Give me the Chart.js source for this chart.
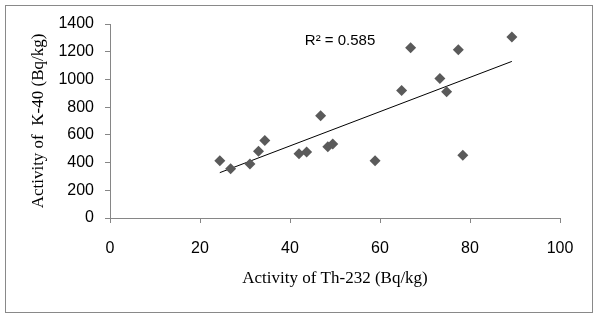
<!DOCTYPE html>
<html>
<head>
<meta charset="utf-8">
<script src="https://cdn.jsdelivr.net/npm/chart.js@4/dist/chart.umd.min.js"></script>
<style>
html,body{margin:0;padding:0;background:#fff;}
canvas{display:block;}
</style>
</head>
<body>
<canvas id="c" width="599" height="319"></canvas>
<script>
// Activity of Th-232 (Bq/kg)
const thActivity = [24.4, 26.8, 31.1, 33.0, 34.4, 42.0, 43.7, 46.8, 48.4, 49.5, 58.9, 64.8, 66.8, 73.3, 74.8, 77.4, 78.4, 89.3];
// Activity of K-40 (Bq/kg)
const kActivity  = [413, 356, 390, 481, 560, 464, 476, 738, 514, 534, 413, 921, 1229, 1007, 911, 1214, 452, 1306];
const xTitle = 'Activity of Th-232 (Bq/kg)';
const yTitle = 'Activity of  K-40 (Bq/kg)';
const r2Label = 'R\u00B2 = 0.585';

const points = thActivity.map((x, i) => ({x: x, y: kActivity[i]}));

// linear least-squares trendline from the data
const n = thActivity.length;
const mx = thActivity.reduce((a, b) => a + b, 0) / n;
const my = kActivity.reduce((a, b) => a + b, 0) / n;
let sxy = 0, sxx = 0;
for (let i = 0; i < n; i++) { sxy += (thActivity[i] - mx) * (kActivity[i] - my); sxx += (thActivity[i] - mx) ** 2; }
const slope = sxy / sxx, intercept = my - slope * mx;
const xMin = Math.min(...thActivity), xMax = Math.max(...thActivity);
const trend = [{x: xMin, y: intercept + slope * xMin}, {x: xMax, y: intercept + slope * xMax}];

const axisGray = '#868686';
const tickFont = {family: '"Liberation Sans", Arial, sans-serif', size: 16};
const titleFont = {family: '"Liberation Serif", "Times New Roman", serif', size: 17};

const framePlugin = {
  id: 'frame',
  beforeDraw(chart) {
    const ctx = chart.ctx;
    ctx.save();
    ctx.fillStyle = '#fff';
    ctx.fillRect(0, 0, chart.width, chart.height);
    ctx.strokeStyle = '#898989';
    ctx.lineWidth = 1;
    ctx.strokeRect(5.5, 5.5, 587, 307);
    ctx.restore();
  },
  afterDraw(chart) {
    const ctx = chart.ctx;
    const xs = chart.scales.x, ys = chart.scales.y;
    ctx.save();
    ctx.fillStyle = '#000';
    ctx.font = '15px "Liberation Sans", Arial, sans-serif';
    ctx.textAlign = 'left';
    ctx.textBaseline = 'middle';
    ctx.fillText(r2Label, xs.getPixelForValue(43.3), ys.getPixelForValue(1280));
    ctx.restore();
  }
};

new Chart(document.getElementById('c'), {
  type: 'scatter',
  data: {
    datasets: [
      {
        label: 'K-40 vs Th-232',
        data: points,
        pointStyle: 'rectRot',
        pointRadius: 5.5,
        pointHoverRadius: 5.5,
        backgroundColor: '#5a5a5a',
        borderColor: '#5a5a5a',
        borderWidth: 0,
        order: 1
      },
      {
        type: 'line',
        label: 'Linear trend',
        data: trend,
        borderColor: '#000',
        borderWidth: 1,
        pointRadius: 0,
        fill: false,
        order: 2
      }
    ]
  },
  options: {
    responsive: false,
    devicePixelRatio: 1,
    animation: false,
    layout: {padding: {left: 28, right: 39, top: 24, bottom: 30}},
    plugins: {legend: {display: false}, tooltip: {enabled: false}},
    scales: {
      x: {
        type: 'linear',
        min: 0, max: 100,
        ticks: {stepSize: 20, color: '#000', font: tickFont, padding: 16, callback: v => String(v)},
        grid: {display: true, drawOnChartArea: false, drawTicks: true, tickLength: 5, color: axisGray},
        border: {display: true, color: axisGray, width: 1},
        title: {display: true, text: xTitle, color: '#000', font: titleFont, padding: {top: 0, bottom: 0}},
        afterFit(s) { s.height = 71; }
      },
      y: {
        type: 'linear',
        min: 0, max: 1400,
        ticks: {stepSize: 200, color: '#000', font: tickFont, padding: 11, callback: v => String(v)},
        grid: {display: true, drawOnChartArea: false, drawTicks: true, tickLength: 5, color: axisGray},
        border: {display: true, color: axisGray, width: 1},
        title: {display: true, text: yTitle, color: '#000', font: titleFont, padding: {top: 0, bottom: 0}},
        afterFit(s) { s.width = 82; }
      }
    }
  },
  plugins: [framePlugin]
});
</script>
</body>
</html>
